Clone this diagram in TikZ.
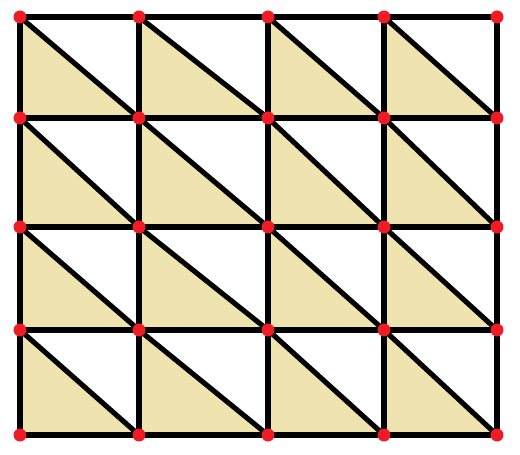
\documentclass[tikz,border=0pt]{standalone}
\usepackage{xcolor}
\usepackage{tikz}
\definecolor{cellfill}{HTML}{EFE3B0}
\definecolor{dotred}{HTML}{EE1C25}

\begin{document}
\begin{tikzpicture}[x=0.02cm, y=-0.02cm, line width=2.9pt]
\useasboundingbox (0,0) rectangle (520,455);
% grid points
\foreach \xv [count=\i] in {20,139,268,384,497} {
  \foreach \yv [count=\j] in {17,118,227,330,435} {
    \coordinate (p-\i-\j) at (\xv,\yv);
  }
}
% lower-left triangles
\foreach \i [evaluate=\i as \ii using int(\i+1)] in {1,...,4} {
  \foreach \j [evaluate=\j as \jj using int(\j+1)] in {1,...,4} {
    \fill[cellfill] (p-\i-\j) -- (p-\i-\jj) -- (p-\ii-\jj) -- cycle;
    \draw (p-\i-\j) -- (p-\ii-\jj);
  }
}
% grid lines
\foreach \k in {1,...,5} {
  \draw (p-\k-1) -- (p-\k-5);
  \draw (p-1-\k) -- (p-5-\k);
}
% vertices
\foreach \i in {1,...,5} {
  \foreach \j in {1,...,5} {
    \fill[dotred] (p-\i-\j) circle (6.5);
  }
}
\end{tikzpicture}
\end{document}
